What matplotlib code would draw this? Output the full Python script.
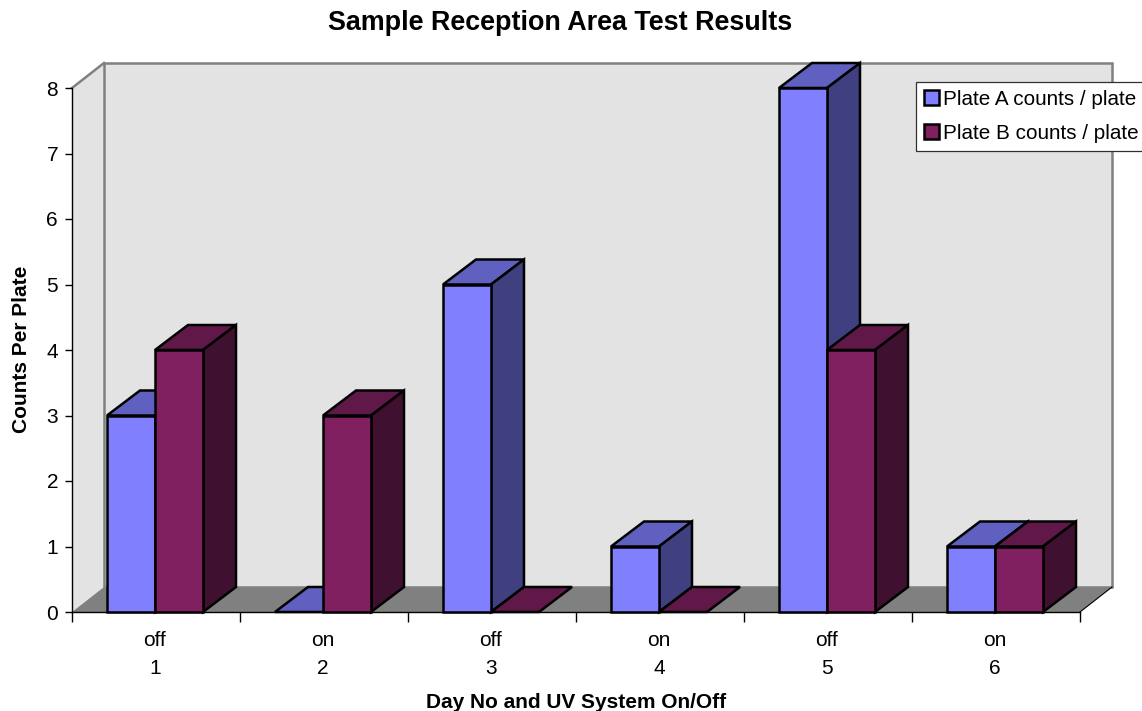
import numpy as np
import matplotlib
matplotlib.use('Agg')
import matplotlib.pyplot as plt
from matplotlib.patches import Polygon, Patch

plt.rcParams['font.family'] = ['Liberation Sans', 'DejaVu Sans']

# data
days = ['1', '2', '3', '4', '5', '6']
uv_state = ['off', 'on', 'off', 'on', 'off', 'on']
plate_a = [3, 0, 5, 1, 8, 1]
plate_b = [4, 3, 0, 0, 4, 1]

W, H = 1142, 711
fig = plt.figure(figsize=(W / 100, H / 100), dpi=100)

# axes box = front plane of the 3d chart, in pixels
left, right, top, bottom = 72, 1080, 88, 612
ax = fig.add_axes([left / W, 1 - bottom / H, (right - left) / W, (bottom - top) / H])
ax.set_xlim(0, 6)
ax.set_ylim(0, 8)
ax.patch.set_visible(False)

# depth of the fake 3d, in data units
dx = 32 / 168
dy = 25 / 65.5
bar_dx = 33 / 168
bar_w = 48 / 168
wall_col = '#E3E3E3'
grey = '#808080'


def poly(pts, fc, ec='black', lw=1.8, z=1):
    ax.add_patch(Polygon(pts, closed=True, fc=fc, ec=ec, lw=lw, zorder=z,
                         clip_on=False, joinstyle='miter'))


# walls and floor
poly([(0, 0), (dx, dy), (dx, 8 + dy), (0, 8)], wall_col, ec='none', z=0.5)
poly([(dx, dy), (6 + dx, dy), (6 + dx, 8 + dy), (dx, 8 + dy)], wall_col, ec=grey, lw=1.8, z=0.6)
ax.plot([0, dx], [8, 8 + dy], color=grey, lw=1.8, zorder=0.7, clip_on=False)
poly([(0, 0), (dx, dy), (6 + dx, dy), (6, 0)], grey, ec='none', z=0.8)
ax.plot([6, 6 + dx], [0, dy], color='black', lw=0.8, zorder=0.9, clip_on=False)


def bar_3d(x0, val, front, top_col, side, z):
    x1 = x0 + bar_w
    poly([(x0, val), (x0 + bar_dx, val + dy), (x1 + bar_dx, val + dy), (x1, val)], top_col, z=z)
    if val > 0:
        poly([(x1, 0), (x1 + bar_dx, dy), (x1 + bar_dx, val + dy), (x1, val)], side, z=z)
        ax.bar(x0, val, width=bar_w, align='edge', color=front, edgecolor='black',
               linewidth=1.8, zorder=z + 0.1, clip_on=False)


z = 2
for i in range(len(days)):
    c = i + 0.494
    bar_3d(c - bar_w, plate_a[i], '#8080FF', '#6060C0', '#404080', z)
    z += 1
    bar_3d(c, plate_b[i], '#802060', '#601848', '#401030', z)
    z += 1

# axes
for s in ['top', 'right']:
    ax.spines[s].set_visible(False)
for s in ['left', 'bottom']:
    ax.spines[s].set_linewidth(1)
    ax.spines[s].set_zorder(1.5)
ax.set_yticks(range(9))
ax.set_xticks(range(7))
ax.set_xticklabels([])
ax.set_xticks(np.arange(6) + 0.494, [u + '\n' + d for u, d in zip(uv_state, days)], minor=True)
ax.tick_params(axis='y', length=5, width=1, labelsize=15, pad=5)
ax.tick_params(axis='x', which='major', length=7, width=1)
ax.tick_params(axis='x', which='minor', length=0, labelsize=15, pad=14)
for lab in ax.get_xticklabels(minor=True):
    lab.set_linespacing(1.55)

fig.text(560 / W, 1 - 23 / H, 'Sample Reception Area Test Results', ha='center', va='center',
         fontsize=19.4, fontweight='bold')
fig.text(576 / W, 1 - 703 / H, 'Day No and UV System On/Off', ha='center', va='center',
         fontsize=15, fontweight='bold')
fig.text(22 / W, 1 - 349 / H, 'Counts Per Plate', rotation=90, ha='center', va='center',
         fontsize=15, fontweight='bold')

handles = [Patch(fc='#8080FF', ec='black', lw=1.8, label='Plate A counts / plate'),
           Patch(fc='#802060', ec='black', lw=1.8, label='Plate B counts / plate')]
leg = fig.legend(handles=handles, loc='upper left', bbox_to_anchor=(916 / W, 1 - 82 / H),
                 borderaxespad=0, fancybox=False, framealpha=1, edgecolor='#303030',
                 fontsize=14.9, handlelength=0.72, handleheight=0.72, handletextpad=0.22,
                 labelspacing=0.72, borderpad=0.38)
leg.get_frame().set_linewidth(0.9)
leg.set_zorder(100)

fig.savefig('out.png', dpi=100)
